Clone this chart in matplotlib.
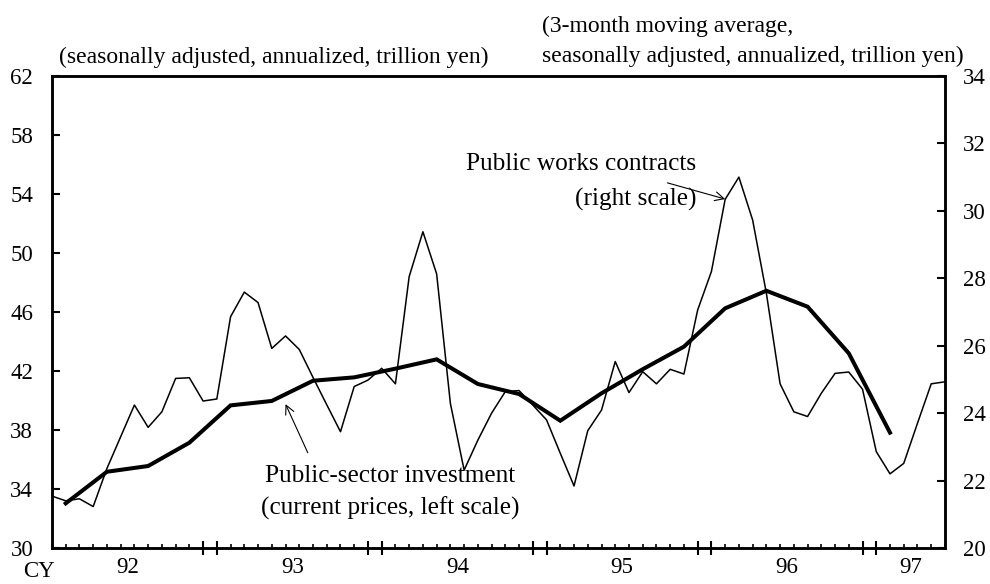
import numpy as np
import matplotlib
matplotlib.use("Agg")
import matplotlib.pyplot as plt

plt.rcParams['font.family'] = ['Liberation Serif', 'DejaVu Serif']

################################################################################
# data: monthly public works contracts (Jan 92 - Jun 97, right scale)
contracts = [21.54, 21.40, 21.46, 21.23, 22.36, 23.30, 24.24, 23.58, 24.04, 25.03, 25.05, 24.36,
             24.42, 26.86, 27.59, 27.28, 25.92, 26.29, 25.89, 25.06, 24.25, 23.45, 24.79, 24.98,
             25.33, 24.87, 28.05, 29.38, 28.13, 24.29, 22.31, 23.20, 24.00, 24.64, 24.67, 24.24,
             23.80, 22.81, 21.84, 23.48, 24.09, 25.53, 24.61, 25.23, 24.87, 25.30, 25.16, 27.06,
             28.20, 30.34, 31.00, 29.73, 27.56, 24.87, 24.04, 23.90, 24.59, 25.18, 25.22, 24.71,
             22.86, 22.20, 22.51, 23.70, 24.87, 24.93]
# quarterly public-sector investment (I/92 - I/97, left scale), plotted mid-quarter
investment = [33.03, 35.17, 35.56, 37.14, 39.67, 39.97, 41.34, 41.57, 42.16, 42.79, 41.12,
              40.44, 38.63, 40.49, 42.12, 43.65, 46.25, 47.44, 46.36, 43.20, 37.82]
years = ["92", "93", "94", "95", "96", "97"]

monthIdx = np.arange(len(contracts))
quarterIdx = np.arange(len(investment)) * 3 + 1

TICK_FS = 16.5
HEAD_FS = 17
NOTE_FS = 18.2

################################################################################
fig = plt.figure(figsize=(9.9, 5.84), dpi=100)
ax = fig.add_axes([0.0525, 0.0616, 0.9020, 0.8083])
ax2 = ax.twinx()

ax.plot(quarterIdx, investment, color="black", lw=2.9, solid_joinstyle="miter", zorder=3)
ax2.plot(monthIdx, contracts, color="black", lw=1.1, zorder=2)

ax.set_xlim(0, 65)
ax.set_ylim(30, 62)
ax2.set_ylim(20, 34)
ax.set_yticks(np.arange(30, 63, 4))
ax2.set_yticks(np.arange(20, 35, 2))

# x ticks: month ticks, long ticks at last/first month of each year
majorPos = [11, 12, 23, 24, 35, 36, 47, 48, 59, 60]
minorPos = [m for m in range(66) if m not in majorPos]
ax.set_xticks(majorPos)
ax.set_xticks(minorPos, minor=True)
ax.set_xticklabels([])
ax.tick_params(axis="x", which="major", direction="inout", length=10, width=1.5)
ax.tick_params(axis="x", which="minor", direction="in", length=3, width=1.2)
ax.tick_params(axis="y", direction="in", length=6, width=1.5, labelsize=TICK_FS, pad=13.5)
ax2.tick_params(axis="y", direction="in", length=6, width=1.5, labelsize=TICK_FS, pad=13)

for a in (ax, ax2):
    for s in a.spines.values():
        s.set_linewidth(1.8)

for i, yr in enumerate(years):
    start = i * 12
    end = min(start + 11, 65)
    ax.text((start + end) / 2.0, -0.02, yr, transform=ax.get_xaxis_transform(),
            ha="center", va="top", fontsize=TICK_FS)
fig.text(0.039, 0.004, "CY", ha="center", va="bottom", fontsize=TICK_FS)

# headers
fig.text(0.060, 0.892, "(seasonally adjusted, annualized, trillion yen)",
         ha="left", va="baseline", fontsize=HEAD_FS)
fig.text(0.547, 0.945, "(3-month moving average,", ha="left", va="baseline", fontsize=HEAD_FS)
fig.text(0.547, 0.894, "seasonally adjusted, annualized, trillion yen)",
         ha="left", va="baseline", fontsize=HEAD_FS)

# annotations
arrow = dict(arrowstyle="->", lw=0.8, color="black", mutation_scale=16, shrinkA=0, shrinkB=0)
ax2.annotate("", xy=(49, 30.35), xytext=(44.8, 30.83), arrowprops=arrow)
ax2.text(46.9, 31.21, "Public works contracts", ha="right", va="baseline", fontsize=NOTE_FS)
ax2.text(46.9, 30.17, "(right scale)", ha="right", va="baseline", fontsize=NOTE_FS)

ax.annotate("", xy=(17.0, 39.76), xytext=(18.62, 36.46), arrowprops=arrow)
ax.text(24.65, 34.47, "Public-sector investment", ha="center", va="baseline", fontsize=NOTE_FS)
ax.text(24.65, 32.24, "(current prices, left scale)", ha="center", va="baseline", fontsize=NOTE_FS)

plt.savefig("out.png", dpi=100)
